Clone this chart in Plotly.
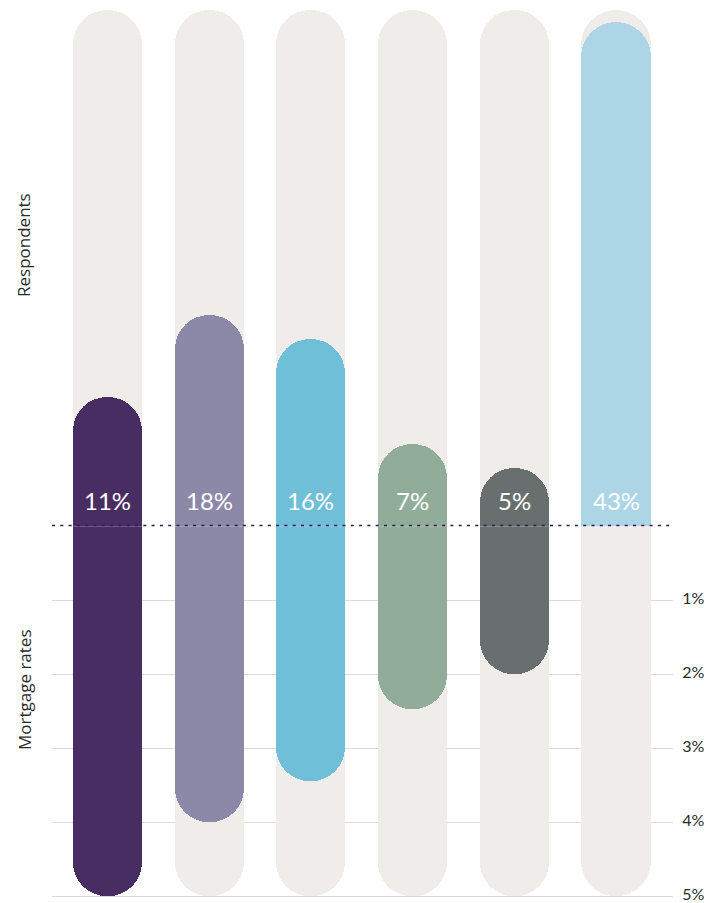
import plotly.graph_objects as go

# Six respondent groups, each with share of respondents (upper panel)
# and the mortgage rate it relates to (lower panel)
groups = ["A", "B", "C", "D", "E", "F"]
respondent_share = [11, 18, 16, 7, 5, 43]
respondent_labels = ["11%", "18%", "16%", "7%", "5%", "43%"]
mortgage_rate = [5.0, 4.0, 3.45, 2.47, 2.0, None]
colors = ["#472d62", "#8c88a7", "#70bfd8", "#91ad9a", "#686f6e", "#acd6e6"]

share_max = 44
rate_max = 5
rate_ticks = [1, 2, 3, 4, 5]
rate_tick_text = ["1%", "2%", "3%", "4%", "5%"]

track_color = "#efecea"
bar_width = 0.68
pill = "50%"


def pill_bar(values, color, xa, ya):
    return go.Bar(x=groups, y=values, width=bar_width,
                  marker=dict(color=color, cornerradius=pill, line=dict(width=0)),
                  xaxis=xa, yaxis=ya, hoverinfo="skip", showlegend=False)


fig = go.Figure()

# Background tracks (own axes so their rounding is independent of the data bars)
fig.add_trace(pill_bar([share_max] * len(groups), track_color, "x", "y"))
fig.add_trace(pill_bar([rate_max] * len(groups), track_color, "x2", "y2"))

# Respondent share, growing upward from the divider
fig.add_trace(pill_bar(respondent_share, colors, "x3", "y3"))
# Mortgage rate, growing downward from the divider
fig.add_trace(pill_bar(mortgage_rate, colors, "x4", "y4"))

# Value labels just above the divider
for g, lab in zip(groups, respondent_labels):
    fig.add_annotation(x=g, y=0, xref="x3", yref="y3", text=lab, showarrow=False,
                       yshift=26, font=dict(family="Lato", size=24, color="white"))

# Plot area: 890 px tall, the lower panel leaves a little room under 5%
plot_h = 890
lower_h = 373.7
split = lower_h / plot_h
lower_range = [5.05, 0]

# Panel titles
title_font = dict(family="Open Sans", size=17, color="#2a2a2a")
fig.add_annotation(xref="paper", yref="paper", x=0, xshift=-28, xanchor="center",
                   y=(900 - 245) / plot_h, yanchor="middle",
                   text="Respondents", textangle=-90, showarrow=False, font=title_font)
fig.add_annotation(xref="paper", yref="paper", x=0, xshift=-28, xanchor="center",
                   y=(900 - 690) / plot_h, yanchor="middle",
                   text="Mortgage rates", textangle=-90, showarrow=False, font=title_font)

# Dotted divider
fig.add_shape(type="line", xref="paper", yref="y3", x0=0, x1=1, y0=0, y1=0,
              line=dict(color="#2e1a52", width=3, dash="3px,5.3px"), layer="above")

x_range = [-0.545, 5.56]
upper = dict(domain=[split, 1], range=[0, share_max], visible=False)
fig.update_layout(
    width=709, height=903,
    margin=dict(l=52, r=36, t=10, b=3, autoexpand=False),
    paper_bgcolor="white", plot_bgcolor="white",
    barmode="overlay", bargap=0,
    xaxis=dict(domain=[0, 1], anchor="y", range=x_range, visible=False),
    xaxis2=dict(domain=[0, 1], anchor="y2", range=x_range, visible=False),
    xaxis3=dict(domain=[0, 1], anchor="y3", range=x_range, visible=False, overlaying="x"),
    xaxis4=dict(domain=[0, 1], anchor="y4", range=x_range, visible=False, overlaying="x2"),
    yaxis=dict(upper),
    yaxis3=dict(upper, overlaying="y", anchor="x3"),
    yaxis2=dict(domain=[0, split], range=lower_range, side="right", anchor="x2",
                tickvals=rate_ticks, ticktext=rate_tick_text,
                showgrid=True, gridcolor="#dcd9d7", gridwidth=1,
                zeroline=False, showline=False, automargin=False,
                ticks="outside", ticklen=5, tickcolor="rgba(0,0,0,0)",
                ticklabeloverflow="allow", ticklabelshift=2,
                tickfont=dict(family="Lato", size=16, color="#2a2a2a")),
    yaxis4=dict(domain=[0, split], range=lower_range, visible=False,
                overlaying="y2", anchor="x4"),
    font=dict(family="Lato"),
)

fig.write_html("out.html")
